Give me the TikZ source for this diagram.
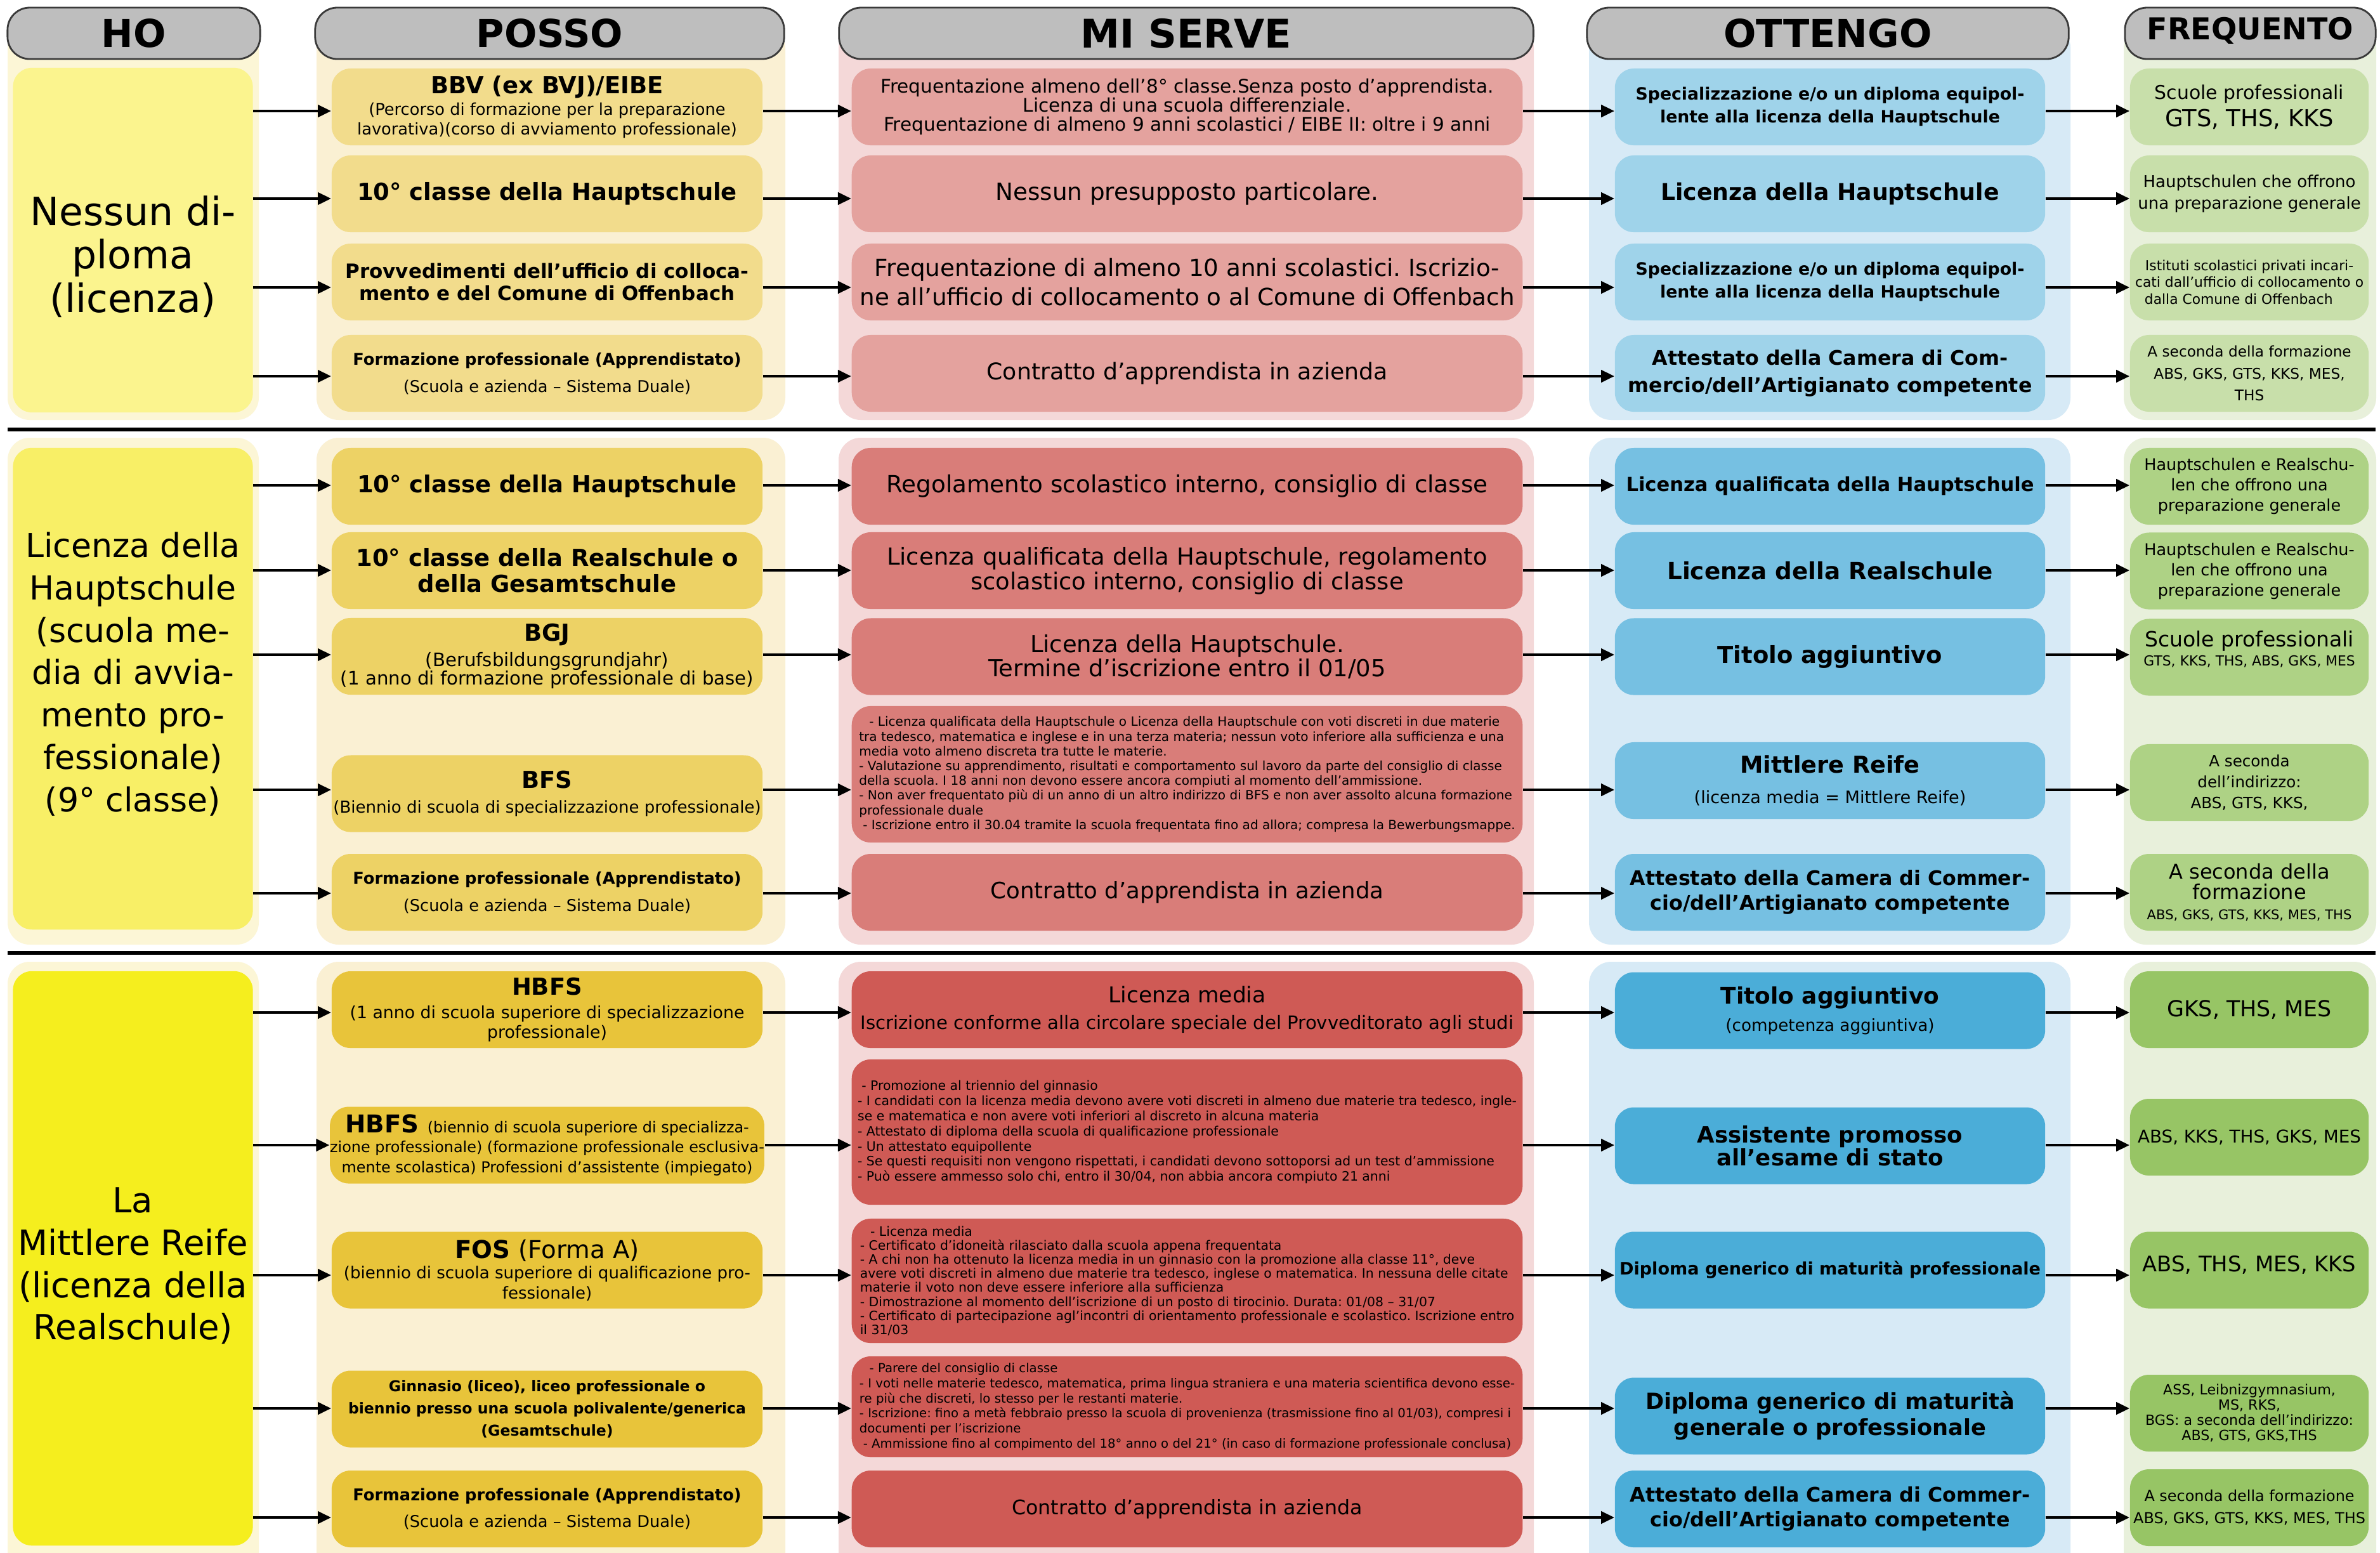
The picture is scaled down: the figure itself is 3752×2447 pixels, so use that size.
\documentclass[tikz,border=0pt]{standalone}
\usepackage{fontspec}
\setmainfont{DejaVu Sans}
\usetikzlibrary{arrows.meta}
\frenchspacing

\definecolor{hdr}{HTML}{BEBEBE}
\definecolor{hdrline}{HTML}{3A3A3A}
\definecolor{hoP}{HTML}{FCF6D6}
\definecolor{hoA}{HTML}{FBF48E}
\definecolor{hoB}{HTML}{F8EF66}
\definecolor{hoC}{HTML}{F5EE1E}
\definecolor{poP}{HTML}{FAF0D3}
\definecolor{poA}{HTML}{F2DC8C}
\definecolor{poB}{HTML}{EDD265}
\definecolor{poC}{HTML}{E8C43A}
\definecolor{miP}{HTML}{F4D8D8}
\definecolor{miA}{HTML}{E4A29E}
\definecolor{miB}{HTML}{D97D79}
\definecolor{miC}{HTML}{CF5A55}
\definecolor{otP}{HTML}{D7EAF6}
\definecolor{otA}{HTML}{9FD3EA}
\definecolor{otB}{HTML}{76C0E2}
\definecolor{otC}{HTML}{4BADD8}
\definecolor{frP}{HTML}{E8F0DB}
\definecolor{frA}{HTML}{C8DFAA}
\definecolor{frB}{HTML}{AED285}
\definecolor{frC}{HTML}{97C565}

\newcommand{\fsz}[2]{\fontsize{#1}{#2}\selectfont}
\newcommand{\rowarrows}[6]{%
  \draw[arr] (#1.east |- 0,#6) -- (#2.west |- 0,#6);
  \draw[arr] (#2.east |- 0,#6) -- (#3.west |- 0,#6);
  \draw[arr] (#3.east |- 0,#6) -- (#4.west |- 0,#6);
  \draw[arr] (#4.east |- 0,#6) -- (#5.west |- 0,#6);}

\tikzset{
  box/.style={rounded corners=0.3cm, inner sep=0pt, align=center, text=black},
  hobox/.style={box, minimum width=3.78cm},
  pobox/.style={box, minimum width=6.79cm, minimum height=1.21cm},
  mibox/.style={box, minimum width=10.57cm, minimum height=1.21cm},
  otbox/.style={box, minimum width=6.78cm, minimum height=1.21cm},
  frbox/.style={box, minimum width=3.76cm, minimum height=1.21cm},
  panel/.style={rounded corners=0.35cm},
  hdrbox/.style={rounded corners=0.35cm, fill=hdr, draw=hdrline, line width=0.8pt,
    inner sep=0pt, minimum height=0.81cm},
  arr/.style={-{Triangle[length=6pt,width=5.4pt]}, line width=1.3pt},
  sepline/.style={line width=1.8pt}
}

\begin{document}
\begin{tikzpicture}[x=0.01cm,y=-0.01cm]
\useasboundingbox (0,0) rectangle (3752,2447);
\fill[white] (0,0) rectangle (3752,2447);

% ---------- column panels ----------
\begin{scope}
\clip (0,0) rectangle (3752,2447);
\foreach \ya/\yb in {40/662, 690/1489, 1516/2490}{
  \fill[hoP, panel] (12,\ya) rectangle (408,\yb);
  \fill[poP, panel] (499,\ya) rectangle (1238,\yb);
  \fill[miP, panel] (1322,\ya) rectangle (2418,\yb);
  \fill[otP, panel] (2505,\ya) rectangle (3264,\yb);
  \fill[frP, panel] (3348,\ya) rectangle (3746,\yb);
}
\end{scope}

% ---------- separators ----------
\coordinate (s1a) at (12,677);  \coordinate (s1b) at (3745,677);
\coordinate (s2a) at (12,1502); \coordinate (s2b) at (3745,1502);
\draw[sepline] (s1a) -- (s1b);
\draw[sepline] (s2a) -- (s2b);

% ---------- headers ----------
\node[hdrbox, minimum width=3.98cm, font=\fsz{17.2}{20}\bfseries] (hHO) at (211,52.5) {HO};
\node[hdrbox, minimum width=7.39cm, font=\fsz{17.2}{20}\bfseries] (hPO) at (866.5,52.5) {POSSO};
\node[hdrbox, minimum width=10.94cm, font=\fsz{17.7}{20}\bfseries] (hMI) at (1870,52.5) {MI SERVE};
\node[hdrbox, minimum width=7.59cm, font=\fsz{17.2}{20}\bfseries] (hOT) at (2881.5,52.5) {OTTENGO};
\node[hdrbox, minimum width=3.95cm, font=\fsz{13.5}{16}\bfseries] (hFR) at (3547.5,52.5)
  {\raisebox{1.2pt}[\height][\depth]{FREQUENTO}};

% ================= SECTION 1 =================
\node[hobox, fill=hoA, minimum height=5.43cm, font=\fsz{17.5}{19.5}] (ho1) at (209.5,378.5)
  {\rule{0pt}{28pt}Nessun di-\\ploma\\(licenza)};

\node[pobox, fill=poA, font=\fsz{7.3}{8.8}] (p1a) at (862.5,168.5)
  {\fsz{10.5}{12}\bfseries BBV (ex BVJ)/EIBE\\[0.7pt](Percorso di formazione per la preparazione\\lavorativa)(corso di avviamento professionale)};
\node[pobox, fill=poA, font=\fsz{10.5}{12}\bfseries] (p1b) at (862.5,305.5)
  {10° classe della Hauptschule};
\node[pobox, fill=poA, font=\fsz{8.8}{9.8}\bfseries] (p1c) at (862.5,444.5)
  {Provvedimenti dell’ufficio di colloca-\\mento e del Comune di Offenbach};
\node[pobox, fill=poA, font=\fsz{7.3}{12.2}] (p1d) at (862.5,588.5)
  {\bfseries Formazione professionale (Apprendistato)\\(Scuola e azienda – Sistema Duale)};

\node[mibox, fill=miA, font=\fsz{8.4}{8.6}] (m1a) at (1871.5,168.5)
  {Frequentazione almeno dell’8° classe.Senza posto d’apprendista.\\Licenza di una scuola differenziale.\\Frequentazione di almeno 9 anni scolastici / EIBE II: oltre i 9 anni};
\node[mibox, fill=miA, font=\fsz{10.6}{12}] (m1b) at (1871.5,305.5)
  {Nessun presupposto particolare.};
\node[mibox, fill=miA, font=\fsz{10.6}{13}] (m1c) at (1871.5,444.5)
  {Frequentazione di almeno 10 anni scolastici. Iscrizio-\\ne all’ufficio di collocamento o al Comune di Offenbach};
\node[mibox, fill=miA, font=\fsz{10.3}{12}] (m1d) at (1871.5,588.5)
  {Contratto d’apprendista in azienda};

\node[otbox, fill=otA, font=\fsz{7.6}{10.2}\bfseries] (o1a) at (2885,168.5)
  {Specializzazione e/o un diploma equipol-\\lente alla licenza della Hauptschule};
\node[otbox, fill=otA, font=\fsz{10.3}{12}\bfseries] (o1b) at (2885,305.5)
  {Licenza della Hauptschule};
\node[otbox, fill=otA, font=\fsz{7.6}{10.2}\bfseries] (o1c) at (2885,444.5)
  {Specializzazione e/o un diploma equipol-\\lente alla licenza della Hauptschule};
\node[otbox, fill=otA, font=\fsz{9}{12.2}\bfseries] (o1d) at (2885,588.5)
  {Attestato della Camera di Com-\\mercio/dell’Artigianato competente};

\node[frbox, fill=frA, font=\fsz{8.5}{12.2}] (f1a) at (3546,168.5)
  {Scuole professionali\\\fsz{10.5}{12}GTS, THS, KKS};
\node[frbox, fill=frA, font=\fsz{7.4}{9.5}] (f1b) at (3546,305.5)
  {Hauptschulen che offrono\\una preparazione generale};
\node[frbox, fill=frA, font=\fsz{6.2}{7.5}] (f1c) at (3546,444.5)
  {Istituti scolastici privati incari-\\cati dall’ufficio di collocamento o\\\makebox[3.3cm][l]{dalla Comune di Offenbach}};
\node[frbox, fill=frA, font=\fsz{6.6}{9.9}] (f1d) at (3546,588.5)
  {A seconda della formazione\\ABS, GKS, GTS, KKS, MES,\\THS};

\rowarrows{ho1}{p1a}{m1a}{o1a}{f1a}{175}
\rowarrows{ho1}{p1b}{m1b}{o1b}{f1b}{313}
\rowarrows{ho1}{p1c}{m1c}{o1c}{f1c}{453}
\rowarrows{ho1}{p1d}{m1d}{o1d}{f1d}{593}

% ================= SECTION 2 =================
\node[hobox, fill=hoB, minimum height=7.59cm, font=\fsz{14.8}{19}] (ho2) at (209.5,1085.5)
  {Licenza della\\Hauptschule\\(scuola me-\\dia di avvia-\\mento pro-\\fessionale)\\(9° classe)\rule[-15pt]{0pt}{15pt}};

\node[pobox, fill=poB, font=\fsz{10.5}{12}\bfseries] (p2a) at (862.5,766.5)
  {10° classe della Hauptschule};
\node[pobox, fill=poB, font=\fsz{10.5}{11.6}\bfseries] (p2b) at (862.5,899.5)
  {10° classe della Realschule o\\della Gesamtschule};
\node[pobox, fill=poB, font=\fsz{8.3}{8.3}] (p2c) at (862.5,1034.5)
  {\fsz{10.5}{12}\bfseries BGJ\\[1.8pt](Berufsbildungsgrundjahr)\\(1 anno di formazione professionale di base)};
\node[pobox, fill=poB, font=\fsz{7.4}{11}] (p2d) at (862.5,1251)
  {\fsz{10.5}{12}\bfseries BFS\\(Biennio di scuola di specializzazione professionale)};
\node[pobox, fill=poB, font=\fsz{7.3}{12.2}] (p2e) at (862.5,1406.5)
  {\bfseries Formazione professionale (Apprendistato)\\(Scuola e azienda – Sistema Duale)};

\node[mibox, fill=miB, font=\fsz{10.6}{12}] (m2a) at (1871.5,766.5)
  {Regolamento scolastico interno, consiglio di classe};
\node[mibox, fill=miB, font=\fsz{10.5}{11}] (m2b) at (1871.5,899.5)
  {Licenza qualificata della Hauptschule, regolamento\\scolastico interno, consiglio di classe};
\node[mibox, fill=miB, font=\fsz{10.5}{11}] (m2c) at (1871.5,1035)
  {Licenza della Hauptschule.\\Termine d’iscrizione entro il 01/05};
\node[mibox, fill=miB, minimum height=2.15cm, align=left, font=\fsz{5.7}{6.6}] (m2d) at (1871.5,1220.5)
  {\hspace*{0.8em}- Licenza qualificata della Hauptschule o Licenza della Hauptschule con voti discreti in due materie\\
   tra tedesco, matematica e inglese e in una terza materia; nessun voto inferiore alla sufficienza e una\\
   media voto almeno discreta tra tutte le materie.\\
   - Valutazione su apprendimento, risultati e comportamento sul lavoro da parte del consiglio di classe\\
   della scuola. I 18 anni non devono essere ancora compiuti al momento dell’ammissione.\\
   - Non aver frequentato più di un anno di un altro indirizzo di BFS e non aver assolto alcuna formazione\\
   professionale duale\\
   \hspace*{0.3em}- Iscrizione entro il 30.04 tramite la scuola frequentata fino ad allora; compresa la Bewerbungsmappe.};
\node[mibox, fill=miB, font=\fsz{10.1}{12}] (m2e) at (1871.5,1406.5)
  {Contratto d’apprendista in azienda};

\node[otbox, fill=otB, font=\fsz{8.7}{10}\bfseries] (o2a) at (2885,766.5)
  {Licenza qualificata della Hauptschule};
\node[otbox, fill=otB, font=\fsz{10.6}{12}\bfseries] (o2b) at (2885,899.5)
  {Licenza della Realschule};
\node[otbox, fill=otB, font=\fsz{10.5}{12}\bfseries] (o2c) at (2885,1035)
  {Titolo aggiuntivo};
\node[otbox, fill=otB, font=\fsz{7.7}{13.6}] (o2d) at (2885,1230.5)
  {\fsz{10.4}{12}\bfseries Mittlere Reife\\(licenza media = Mittlere Reife)};
\node[otbox, fill=otB, font=\fsz{9}{10.9}\bfseries] (o2e) at (2885,1406.5)
  {Attestato della Camera di Commer-\\cio/dell’Artigianato competente};

\node[frbox, fill=frB, font=\fsz{7.25}{9.1}] (f2a) at (3546,766.5)
  {Hauptschulen e Realschu-\\len che offrono una\\preparazione generale};
\node[frbox, fill=frB, font=\fsz{7.25}{9.1}] (f2b) at (3546,900)
  {Hauptschulen e Realschu-\\len che offrono una\\preparazione generale};
\node[frbox, fill=frB, font=\fsz{6.2}{8.3}] (f2c) at (3546,1036)
  {\fsz{9.4}{10}Scuole professionali\\GTS, KKS, THS, ABS, GKS, MES\rule[-8pt]{0pt}{8pt}};
\node[frbox, fill=frB, font=\fsz{7}{9.4}] (f2d) at (3546,1233.5)
  {A seconda\\dell’indirizzo:\\ABS, GTS, KKS,};
\node[frbox, fill=frB, font=\fsz{6}{9.2}] (f2e) at (3546,1406.5)
  {\fsz{9.1}{10}A seconda della\\\fsz{9.1}{10}formazione\\ABS, GKS, GTS, KKS, MES, THS};

\rowarrows{ho2}{p2a}{m2a}{o2a}{f2a}{765}
\rowarrows{ho2}{p2b}{m2b}{o2b}{f2b}{899}
\rowarrows{ho2}{p2c}{m2c}{o2c}{f2c}{1032}
\rowarrows{ho2}{p2d}{m2d}{o2d}{f2d}{1245}
\rowarrows{ho2}{p2e}{m2e}{o2e}{f2e}{1408}

% ================= SECTION 3 =================
\node[hobox, fill=hoC, minimum height=9.05cm, font=\fsz{15.5}{19}] (ho3) at (209.5,1983.5)
  {\rule{0pt}{18pt}La\\Mittlere Reife\\(licenza della\\Realschule)};

\node[pobox, fill=poC, font=\fsz{7.6}{9}] (p3a) at (862.5,1591.5)
  {\fsz{10.5}{12}\bfseries HBFS\\[1.5pt](1 anno di scuola superiore di specializzazione\\professionale)};
\node[pobox, fill=poC, font=\fsz{6.8}{9}] (p3b) at (862.5,1805)
  {\fsz{11}{12}\bfseries HBFS \fsz{6.8}{9}\mdseries (biennio di scuola superiore di specializza-\\zione professionale) (formazione professionale esclusiva-\\mente scolastica) Professioni d’assistente (impiegato)};
\node[pobox, fill=poC, font=\fsz{7.4}{9.1}] (p3c) at (862.5,2002)
  {\fsz{11}{12}\bfseries FOS \mdseries(Forma A)\\(biennio di scuola superiore di qualificazione pro-\\fessionale)};
\node[pobox, fill=poC, font=\fsz{6.7}{10}\bfseries] (p3d) at (862.5,2221)
  {Ginnasio (liceo), liceo professionale o\\biennio presso una scuola polivalente/generica\\(Gesamtschule)};
\node[pobox, fill=poC, font=\fsz{7.3}{12}] (p3e) at (862.5,2378.5)
  {\bfseries Formazione professionale (Apprendistato)\\(Scuola e azienda – Sistema Duale)};

\node[mibox, fill=miC, font=\fsz{8.3}{12}] (m3a) at (1871.5,1591.5)
  {\fsz{9.8}{11}Licenza media\\Iscrizione conforme alla circolare speciale del Provveditorato agli studi};
\node[mibox, fill=miC, minimum height=2.29cm, align=left, font=\fsz{5.8}{6.8}] (m3b) at (1871.5,1784.5)
  {\hspace*{0.3em}- Promozione al triennio del ginnasio\\
   - I candidati con la licenza media devono avere voti discreti in almeno due materie tra tedesco, ingle-\\
   se e matematica e non avere voti inferiori al discreto in alcuna materia\\
   - Attestato di diploma della scuola di qualificazione professionale\\
   - Un attestato equipollente\\
   - Se questi requisiti non vengono rispettati, i candidati devono sottoporsi ad un test d’ammissione\\
   - Può essere ammesso solo chi, entro il 30/04, non abbia ancora compiuto 21 anni};
\node[mibox, fill=miC, minimum height=1.96cm, align=left, font=\fsz{5.8}{6.3}] (m3c) at (1871.5,2019)
  {\hspace*{0.8em}- Licenza media\\
   - Certificato d’idoneità rilasciato dalla scuola appena frequentata\\
   - A chi non ha ottenuto la licenza media in un ginnasio con la promozione alla classe 11°, deve\\
   avere voti discreti in almeno due materie tra tedesco, inglese o matematica. In nessuna delle citate\\
   materie il voto non deve essere inferiore alla sufficienza\\
   - Dimostrazione al momento dell’iscrizione di un posto di tirocinio. Durata: 01/08 – 31/07\\
   - Certificato di partecipazione agl’incontri di orientamento professionale e scolastico. Iscrizione entro\\
   il 31/03};
\node[mibox, fill=miC, minimum height=1.59cm, align=left, font=\fsz{5.6}{6.8}] (m3d) at (1871.5,2217.5)
  {\hspace*{0.8em}- Parere del consiglio di classe\\
   - I voti nelle materie tedesco, matematica, prima lingua straniera e una materia scientifica devono esse-\\
   re più che discreti, lo stesso per le restanti materie.\\
   - Iscrizione: fino a metà febbraio presso la scuola di provenienza (trasmissione fino al 01/03), compresi i\\
   documenti per l’iscrizione\\
   \hspace*{0.3em}- Ammissione fino al compimento del 18° anno o del 21° (in caso di formazione professionale conclusa)};
\node[mibox, fill=miC, font=\fsz{9}{12}] (m3e) at (1871.5,2378.5)
  {Contratto d’apprendista in azienda};

\node[otbox, fill=otC, font=\fsz{7.45}{12}] (o3a) at (2885,1593)
  {\fsz{10.2}{12}\bfseries Titolo aggiuntivo\\(competenza aggiuntiva)};
\node[otbox, fill=otC, font=\fsz{10.1}{10.2}\bfseries] (o3b) at (2885,1806)
  {Assistente promosso\\all’esame di stato};
\node[otbox, fill=otC, font=\fsz{7.7}{9}\bfseries] (o3c) at (2885,2002)
  {Diploma generico di maturità professionale};
\node[otbox, fill=otC, font=\fsz{10}{11.7}\bfseries] (o3d) at (2885,2232)
  {Diploma generico di maturità\\generale o professionale};
\node[otbox, fill=otC, font=\fsz{9}{10.9}\bfseries] (o3e) at (2885,2378.5)
  {Attestato della Camera di Commer-\\cio/dell’Artigianato competente};

\node[frbox, fill=frC, font=\fsz{9.9}{11}] (f3a) at (3546,1591.5)
  {GKS, THS, MES};
\node[frbox, fill=frC, font=\fsz{7.9}{9}] (f3b) at (3546,1792.5)
  {ABS, KKS, THS, GKS, MES};
\node[frbox, fill=frC, font=\fsz{9.6}{11}] (f3c) at (3546,2002)
  {ABS, THS, MES, KKS\rule[-6pt]{0pt}{6pt}};
\node[frbox, fill=frC, font=\fsz{6.3}{6.8}] (f3d) at (3546,2227.5)
  {ASS, Leibnizgymnasium,\\MS, RKS,\\BGS: a seconda dell’indirizzo:\\ABS, GTS, GKS,THS};
\node[frbox, fill=frC, font=\fsz{6.8}{10}] (f3e) at (3546,2376.5)
  {A seconda della formazione\\ABS, GKS, GTS, KKS, MES, THS};

\rowarrows{ho3}{p3a}{m3a}{o3a}{f3a}{1596}
\rowarrows{ho3}{p3b}{m3b}{o3b}{f3b}{1805}
\rowarrows{ho3}{p3c}{m3c}{o3c}{f3c}{2010}
\rowarrows{ho3}{p3d}{m3d}{o3d}{f3d}{2220}
\rowarrows{ho3}{p3e}{m3e}{o3e}{f3e}{2392}
\end{tikzpicture}
\end{document}
